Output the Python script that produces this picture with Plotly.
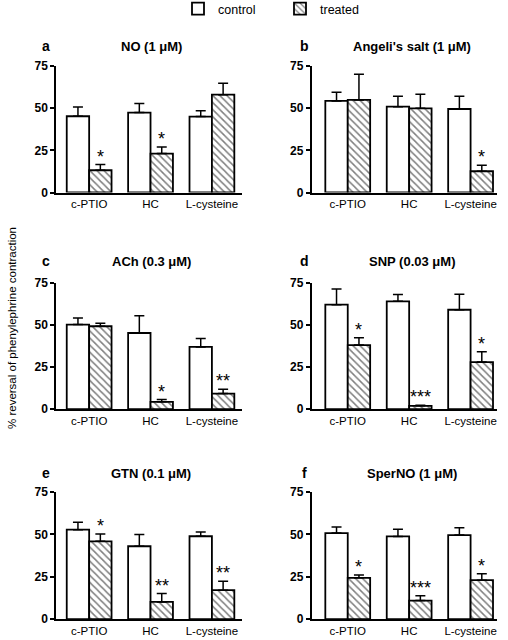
import plotly.graph_objects as go
from plotly.subplots import make_subplots

categories = ["c-PTIO", "HC", "L-cysteine"]
panel_letters = ["a", "b", "c", "d", "e", "f"]
panel_titles = ["NO (1 μM)", "Angeli's salt (1 μM)", "ACh (0.3 μM)",
                "SNP (0.03 μM)", "GTN (0.1 μM)", "SperNO (1 μM)"]

control_mean = [
    [45.2, 47.4, 45.0],
    [54.3, 50.9, 49.5],
    [50.3, 45.3, 37.0],
    [62.1, 64.1, 59.1],
    [52.8, 43.0, 48.9],
    [50.8, 48.8, 49.6],
]
control_sem = [
    [5.5, 5.3, 3.5],
    [5.1, 6.1, 7.5],
    [3.9, 10.3, 5.0],
    [9.3, 4.0, 9.2],
    [4.3, 6.9, 2.5],
    [3.5, 4.2, 4.3],
]
treated_mean = [
    [13.2, 23.1, 58.0],
    [54.9, 49.9, 12.6],
    [49.3, 4.4, 9.3],
    [38.1, 2.0, 28.0],
    [45.9, 10.2, 17.1],
    [24.4, 11.0, 23.0],
]
treated_sem = [
    [3.4, 3.9, 6.7],
    [15.2, 8.3, 3.6],
    [1.8, 1.3, 2.6],
    [4.4, 0.4, 6.1],
    [4.4, 4.9, 5.3],
    [1.6, 2.8, 3.8],
]
significance = [
    ["*", "*", ""],
    ["", "", "*"],
    ["", "*", "**"],
    ["*", "***", "*"],
    ["*", "**", "**"],
    ["*", "***", "*"],
]
y_ticks = [0, 25, 50, 75]

FONT = "Liberation Sans, Arial, sans-serif"
W, H = 508, 640

fig = make_subplots(rows=3, cols=2)

col_x_domain = {1: [56 / W, 242 / W], 2: [311.5 / W, 497 / W]}
col_x_range = {1: [-0.54, 2.49], 2: [-0.59, 2.43]}
row_y_domain = {1: [1 - 192.5 / H, 1 - 66 / H],
                2: [1 - 409.2 / H, 1 - 283 / H],
                3: [1 - 619.2 / H, 1 - 492 / H]}
row_title_y = {1: 1 - 46.5 / H, 2: 1 - 261 / H, 3: 1 - 473 / H}
col_letter_x = {1: 45.8 / W, 2: 304 / W}
col_title_x = {1: 151 / W, 2: 412 / W}

for i in range(6):
    row = i // 2 + 1
    col = i % 2 + 1
    fig.add_trace(go.Bar(
        x=categories, y=control_mean[i], name="control",
        marker=dict(color="white", line=dict(color="black", width=1.8)),
        error_y=dict(type="data", array=control_sem[i], arrayminus=[0] * 3,
                     symmetric=False, color="black", thickness=1.5, width=5),
        showlegend=(i == 0), legendgroup="control",
    ), row=row, col=col)
    fig.add_trace(go.Bar(
        x=categories, y=treated_mean[i], name="treated",
        marker=dict(color="white", line=dict(color="black", width=1.8),
                    pattern=dict(shape="\\", fgcolor="black", bgcolor="white",
                                 size=5, solidity=0.3)),
        error_y=dict(type="data", array=treated_sem[i], arrayminus=[0] * 3,
                     symmetric=False, color="black", thickness=1.5, width=5),
        showlegend=(i == 0), legendgroup="treated",
    ), row=row, col=col)

    axn = "" if i == 0 else str(i + 1)
    fig.layout["xaxis" + axn].update(
        domain=col_x_domain[col], range=col_x_range[col],
        showline=True, linecolor="black", linewidth=1.5,
        ticks="", showgrid=False, zeroline=False, fixedrange=True,
        tickfont=dict(family=FONT, size=11.5, color="black"),
    )
    fig.layout["yaxis" + axn].update(
        domain=row_y_domain[row], range=[0, 75],
        showline=True, linecolor="black", linewidth=1.5,
        ticks="outside", ticklen=4, tickwidth=1.5, tickcolor="black",
        tickvals=y_ticks, ticktext=["<b>%d</b>" % v for v in y_ticks],
        showgrid=False, zeroline=False, fixedrange=True,
        tickfont=dict(family=FONT, size=12, color="black"),
    )

    # panel letter and title
    fig.add_annotation(x=col_letter_x[col], y=row_title_y[row], xref="paper", yref="paper",
                       text="<b>%s</b>" % panel_letters[i], showarrow=False,
                       xanchor="center", yanchor="middle",
                       font=dict(family=FONT, size=14, color="black"))
    fig.add_annotation(x=col_title_x[col], y=row_title_y[row], xref="paper", yref="paper",
                       text="<b>%s</b>" % panel_titles[i], showarrow=False,
                       xanchor="center", yanchor="middle",
                       font=dict(family=FONT, size=13, color="black"))

    # significance markers above treated bars
    for j, cat in enumerate(categories):
        if significance[i][j]:
            fig.add_annotation(
                x=cat, y=treated_mean[i][j] + treated_sem[i][j],
                xref="x" + axn, yref="y" + axn,
                text=significance[i][j], showarrow=False,
                xanchor="center", yanchor="middle", xshift=11.2, yshift=8,
                font=dict(family=FONT, size=18, color="black"))

fig.add_annotation(x=12 / W, y=1 - 328 / H, xref="paper", yref="paper",
                   text="% reversal of phenylephrine contraction", textangle=-90,
                   showarrow=False, xanchor="center", yanchor="middle",
                   font=dict(family=FONT, size=11.5, color="black"))

fig.update_layout(
    width=W, height=H,
    margin=dict(l=0, r=0, t=0, b=0, autoexpand=False),
    paper_bgcolor="white", plot_bgcolor="white",
    barmode="group", bargap=0.27, bargroupgap=0,
    font=dict(family=FONT, color="black"),
    legend=dict(orientation="h", x=178 / W, xanchor="left", y=1 - 9 / H, yanchor="middle",
                font=dict(family=FONT, size=12.5, color="black"),
                entrywidth=57, entrywidthmode="pixels",
                bgcolor="rgba(0,0,0,0)", traceorder="normal"),
)

fig.write_html("out.html", config={"displayModeBar": False},
               post_script="document.body.style.margin='0';")
